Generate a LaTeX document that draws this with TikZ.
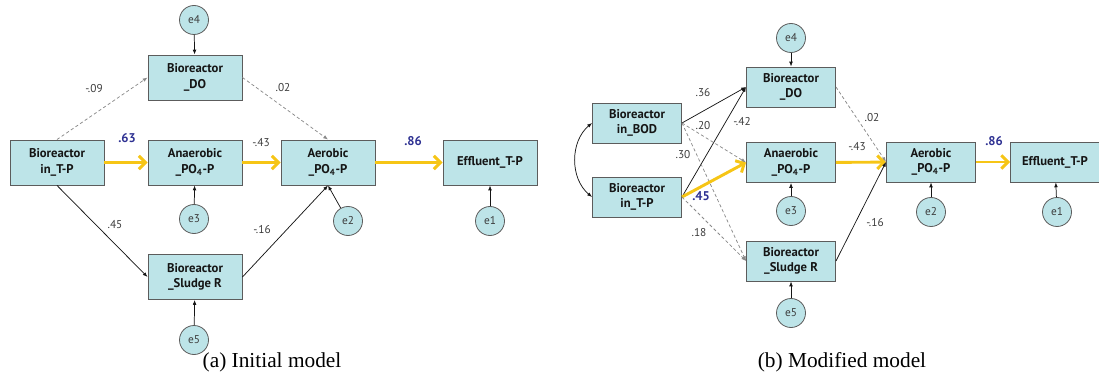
\documentclass[tikz,border=0pt]{standalone}
\usepackage{fontspec}
\setmainfont{Liberation Serif}
\newfontfamily\semfont{PT Sans}
\usetikzlibrary{arrows.meta}
\definecolor{SemFill}{HTML}{BDE4E8}
\definecolor{SemEdge}{HTML}{5C5C5C}
\definecolor{SemGold}{HTML}{F6C516}
\definecolor{SemBlue}{HTML}{2E3192}
\definecolor{SemDash}{HTML}{8A8A8A}
\definecolor{SemInk}{HTML}{151515}
\definecolor{SemText}{HTML}{3C3C3C}
\tikzset{
  var/.style={draw=SemEdge,line width=0.7pt,fill=SemFill,text=SemInk,
              font=\semfont\fontsize{9.5}{11.4}\selectfont\bfseries,align=center,
              minimum width=70.5pt,minimum height=33.75pt,inner sep=1pt},
  varsmall/.style={var,minimum width=66.75pt,minimum height=30pt},
  err/.style={circle,draw=SemEdge,line width=0.6pt,fill=SemFill,minimum size=21.75pt,
              inner sep=0pt,text=SemText,font=\semfont\fontsize{8.5}{10}\selectfont},
  effect/.style={-{Latex[length=3.6pt,width=2.8pt]},SemInk,line width=0.55pt},
  effectdash/.style={effect,SemDash,dash pattern=on 2.4pt off 1.8pt},
  effectmain/.style={-{Straight Barb[length=5pt,width=10pt]},SemGold,line width=2.2pt},
  covar/.style={{Latex[length=3.6pt,width=2.8pt]}-{Latex[length=3.6pt,width=2.8pt]},
                SemInk,line width=0.55pt},
  coef/.style={text=SemText,inner sep=0pt,font=\semfont\fontsize{8.5}{10}\selectfont},
  coefmain/.style={text=SemBlue,inner sep=0pt,font=\semfont\fontsize{9.5}{11}\selectfont\bfseries},
  caption/.style={inner sep=0pt,font=\fontsize{16}{19}\selectfont},
}

\begin{document}
\begin{tikzpicture}[x=0.75pt,y=-0.75pt]
    \useasboundingbox (0,0) rectangle (1099,381);

    % (a) initial model
    \node[var] (tpa) at (57,162.5) {Bioreactor\\in\_T-P};
    \node[var] (doa) at (195,77.5) {Bioreactor\\\_DO};
    \node[var] (ana) at (195,162.5) {Anaerobic\\\_PO\textsubscript{4}-P};
    \node[var] (aera) at (328,162.5) {Aerobic\\\_PO\textsubscript{4}-P};
    \node[var] (effa) at (490,162.5) {Effluent\_T-P};
    \node[var] (sla) at (195,277) {Bioreactor\\\_Sludge R};

    \node[err] (e4a) at (194,20) {e4};
    \node[err] (e3a) at (194,219) {e3};
    \node[err] (e2a) at (348,221) {e2};
    \node[err] (e1a) at (490,221) {e1};
    \node[err] (e5a) at (194,340) {e5};

    \draw[effectdash] (tpa.north)--(doa.west);
    \draw[effectdash] (doa.east)--(aera.north);
    \draw[effectmain] (tpa)--(ana);
    \draw[effectmain] (ana)--(aera);
    \draw[effectmain] (aera)--(effa);
    \draw[effect] (tpa.south)--(sla.west);
    \draw[effect] (sla.east)--(aera.south);
    \draw[effect] (e4a)--(doa);
    \draw[effect] (e3a)--(ana);
    \draw[effect] (e2a)--(aera.south);
    \draw[effect] (e1a)--(effa);
    \draw[effect] (e5a)--(sla);

    \node[coef] (ca1) at (94,89) {-.09};
    \node[coef] (ca2) at (283,88) {.02};
    \node[coefmain] (ca3) at (127,138) {.63};
    \node[coef] (ca4) at (261,143) {-.43};
    \node[coefmain] (ca5) at (413,141.5) {.86};
    \node[coef] (ca6) at (115,225) {.45};
    \node[coef] (ca7) at (262,230) {-.16};

    \node[caption] (capa) at (272,362) {(a) Initial model};

    % (b) modified model
    \node[varsmall] (bodb) at (637,123) {Bioreactor\\in\_BOD};
    \node[varsmall] (tpb) at (637,197) {Bioreactor\\in\_T-P};
    \node[varsmall] (dob) at (791,87) {Bioreactor\\\_DO};
    \node[varsmall] (anb) at (791,162.5) {Anaerobic\\\_PO\textsubscript{4}-P};
    \node[varsmall] (slb) at (791,261) {Bioreactor\\\_Sludge R};
    \node[varsmall] (aerb) at (931,162) {Aerobic\\\_PO\textsubscript{4}-P};
    \node[varsmall] (effb) at (1055,162) {Effluent\_T-P};

    \node[err] (e4b) at (791,38) {e4};
    \node[err] (e3b) at (791,211) {e3};
    \node[err] (e5b) at (791,313) {e5};
    \node[err] (e2b) at (931,212) {e2};
    \node[err] (e1b) at (1057,212) {e1};

    \draw[covar] (bodb.west) to[bend right=50] (tpb.west);
    \draw[effect] (bodb.east)--(dob.west);
    \draw[effect] (tpb.east)--(dob.west);
    \draw[effectdash] (bodb.east)--(anb.west);
    \draw[effectdash] (bodb.east)--(slb.west);
    \draw[effectmain] (tpb.east)--(anb.west);
    \draw[effectdash] (tpb.east)--(slb.west);
    \draw[effectdash] (dob.east)--(aerb.west);
    \draw[effectmain] (anb)--(aerb);
    \draw[effect] (slb.east)--(aerb.west);
    \draw[effectmain] (aerb)--(effb);
    \draw[effect] (e4b)--(dob);
    \draw[effect] (e3b)--(anb);
    \draw[effect] (e5b)--(slb);
    \draw[effect] (e2b)--(aerb);
    \draw[effect] (e1b)--(effb);

    \node[coef] (cb1) at (703,93) {.36};
    \node[coef] (cb2) at (703,126) {.20};
    \node[coef] (cb3) at (742,122) {-.42};
    \node[coef] (cb4) at (683,155) {.30};
    \node[coefmain] (cb5) at (701,196) {.45};
    \node[coef] (cb6) at (699,233) {.18};
    \node[coef] (cb7) at (872,118) {.02};
    \node[coef] (cb8) at (857,147) {-.43};
    \node[coefmain] (cb9) at (994,141.5) {.86};
    \node[coef] (cb10) at (875,223) {-.16};

    \node[caption] (capb) at (842,362) {(b) Modified model};
  \end{tikzpicture}
\end{document}
